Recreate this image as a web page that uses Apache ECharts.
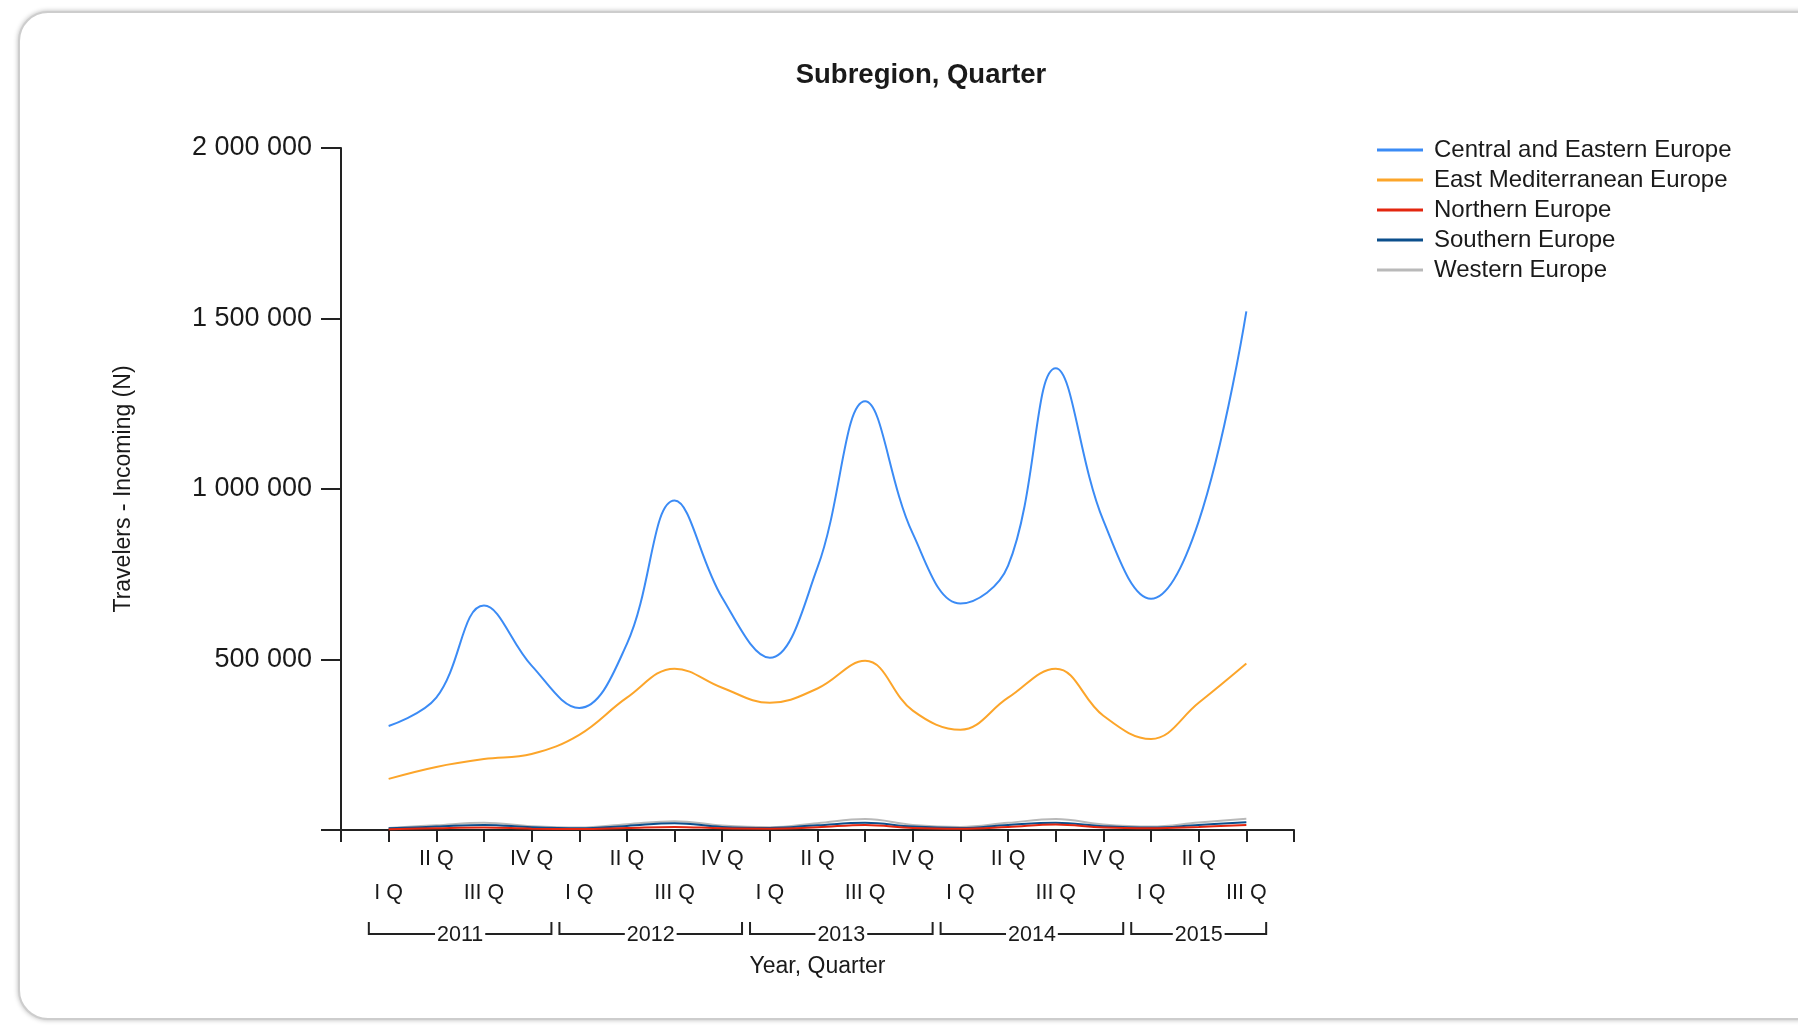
<!DOCTYPE html>
<html>
<head>
<meta charset="utf-8">
<script src="https://cdn.jsdelivr.net/npm/echarts@6/dist/echarts.min.js"></script>
<style>
  html, body { margin: 0; padding: 0; background: #fff; overflow: hidden; }
  #panel { position: absolute; left: 18px; top: 11px; width: 1840px; height: 1005px;
    border: 2px solid #cdcdcd; border-radius: 30px; box-shadow: 0 0 5px rgba(0,0,0,0.28); background: #fff; }
  #chart { position: absolute; left: 0; top: 0; width: 1798px; height: 1025px; }
</style>
</head>
<body>
<div id="panel"></div>
<div id="chart"></div>
<script>
// ---- data ----
var periods = ['2011 I Q','2011 II Q','2011 III Q','2011 IV Q',
               '2012 I Q','2012 II Q','2012 III Q','2012 IV Q',
               '2013 I Q','2013 II Q','2013 III Q','2013 IV Q',
               '2014 I Q','2014 II Q','2014 III Q','2014 IV Q',
               '2015 I Q','2015 II Q','2015 III Q'];
var seriesNames = ['Central and Eastern Europe','East Mediterranean Europe','Northern Europe','Southern Europe','Western Europe'];
var centralEastern = [305000, 388000, 658000, 482000, 358000, 546000, 966000, 681000, 505000, 770000, 1257000, 869000, 664000, 775000, 1354000, 907000, 678000, 905000, 1521000];
var eastMediterranean = [150000, 185000, 208000, 223000, 279000, 388000, 473000, 417000, 373000, 415000, 496000, 350000, 294000, 388000, 473000, 335000, 267000, 373000, 488000];
var northern = [2000, 5000, 7000, 4000, 3000, 6000, 9000, 5000, 4000, 8000, 15000, 6000, 4000, 9000, 16000, 7000, 5000, 9000, 15000];
var southern = [5000, 10000, 15000, 8000, 5000, 12000, 20000, 9000, 6000, 14000, 21000, 10000, 6000, 15000, 21000, 11000, 7000, 15000, 23000];
var western = [6000, 14000, 21000, 11000, 7000, 17000, 26000, 13000, 8000, 20000, 32000, 15000, 9000, 21000, 32000, 16000, 10000, 22000, 33000];
var yTicks = [0, 500000, 1000000, 1500000, 2000000];

// ---- derived ----
var categories = [''].concat(periods).concat(['']);
var yearSpans = [];
periods.forEach(function (p, i) {
  var y = p.split(' ')[0];
  var last = yearSpans[yearSpans.length - 1];
  if (last && last.year === y) { last.end = i + 1; }
  else { yearSpans.push({ year: y, start: i + 1, end: i + 1 }); }
});
function toPoints(arr) { return arr.map(function (v, i) { return [i + 1, v]; }); }
function fmt(v) { return v === 0 ? '' : String(v).replace(/\B(?=(\d{3})+(?!\d))/g, ' '); }

var colors = ['#3b8bf5', '#fca52a', '#e3260f', '#0c4f8c', '#b9b9b9'];
var valuesList = [centralEastern, eastMediterranean, northern, southern, western];
var FONT = 'Liberation Sans, Arial, sans-serif';
var TXT = '#1a1a1a';

var lineSeries = seriesNames.map(function (n, k) {
  return {
    name: n, type: 'line', smooth: 0.4, showSymbol: false, symbol: 'none',
    data: toPoints(valuesList[k]),
    lineStyle: { color: colors[k], width: 2 },
    itemStyle: { color: colors[k] },
    z: 5 - k
  };
});

var bracketSeries = {
  type: 'custom', silent: true, clip: false, z: 10,
  data: yearSpans.map(function (s) { return [s.start, s.end]; }),
  renderItem: function (params, api) {
    var a = api.coord([api.value(0), 0]);
    var b = api.coord([api.value(1), 0]);
    var half = api.size([1, 0])[0] / 2;
    var x1 = a[0] - half + 4, x2 = b[0] + half - 4;
    var y0 = a[1] + 104, yt = y0 - 12;
    return {
      type: 'group',
      children: [
        { type: 'polyline', shape: { points: [[x1, yt], [x1, y0], [x2, y0], [x2, yt]] },
          style: { stroke: '#222', lineWidth: 2, fill: null } },
        { type: 'text', x: (x1 + x2) / 2, y: y0 + 1,
          style: { text: yearSpans[params.dataIndex].year, fill: TXT, font: '21.5px ' + FONT,
                   align: 'center', verticalAlign: 'middle', backgroundColor: '#fff', padding: [0, 2] } }
      ]
    };
  }
};

var chart = echarts.init(document.getElementById('chart'), null, { renderer: 'canvas' });
chart.setOption({
  animation: false,
  backgroundColor: 'transparent',
  textStyle: { fontFamily: FONT, color: TXT },
  title: {
    text: 'Subregion, Quarter', left: 921, top: 61, textAlign: 'center', padding: 0,
    textStyle: { fontFamily: FONT, fontSize: 27.5, fontWeight: 'bold', color: TXT }
  },
  legend: {
    data: seriesNames, orient: 'vertical', left: 1377, top: 138, padding: 0,
    icon: 'rect', itemWidth: 46, itemHeight: 3, itemGap: 6,
    textStyle: { fontFamily: FONT, fontSize: 24, lineHeight: 24, color: TXT, padding: [0, 0, 0, 6] }
  },
  grid: { left: 341, top: 148, right: 504, bottom: 195, containLabel: false, outerBoundsMode: 'none' },
  xAxis: {
    type: 'category', data: categories, boundaryGap: false,
    name: 'Year, Quarter', nameLocation: 'middle', nameGap: 125,
    nameTextStyle: { fontFamily: FONT, fontSize: 23, color: TXT },
    axisLine: { show: true, lineStyle: { color: '#222', width: 2 } },
    axisTick: { show: true, interval: 0, length: 12, lineStyle: { color: '#222', width: 2 } },
    splitLine: { show: false },
    axisLabel: {
      interval: 0, margin: 21, fontFamily: FONT, fontSize: 21.5, lineHeight: 17, color: TXT,
      formatter: function (v) {
        if (!v) return '';
        var q = v.split(' ').slice(1).join(' ');
        return (q === 'I Q' || q === 'III Q') ? '\n\n' + q : q;
      }
    }
  },
  yAxis: {
    type: 'value', min: yTicks[0], max: yTicks[yTicks.length - 1], interval: yTicks[1] - yTicks[0],
    name: 'Travelers - Incoming (N)', nameLocation: 'middle', nameGap: 206, nameRotate: 90,
    nameTextStyle: { fontFamily: FONT, fontSize: 23, color: TXT },
    axisLine: { show: true, lineStyle: { color: '#222', width: 2 } },
    axisTick: { show: true, length: 20, lineStyle: { color: '#222', width: 2 } },
    splitLine: { show: false },
    axisLabel: { margin: 29, fontFamily: FONT, fontSize: 27, color: TXT, formatter: fmt }
  },
  series: lineSeries.concat([bracketSeries])
});
</script>
</body>
</html>
